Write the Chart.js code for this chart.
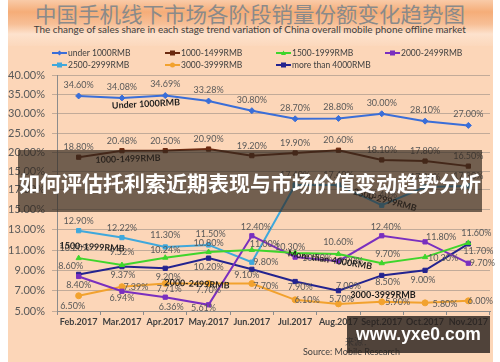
<!DOCTYPE html>
<html><head><meta charset="utf-8">
<script src="https://cdn.jsdelivr.net/npm/chart.js@4.4.1/dist/chart.umd.min.js"></script>
<style>
html,body{margin:0;padding:0;background:#fff;}
#wrap{position:relative;width:500px;height:362px;overflow:hidden;background:#fff;}
#peach{position:absolute;left:8px;top:0;width:485px;height:362px;background:#fcd6b8;}
#head{position:absolute;left:8px;top:0;width:485px;height:46px;
  background:linear-gradient(to bottom,#f9cba8 0px,#f5ad78 12px,#f7bf96 24px,#fde2cd 34px,#fcd8bc 46px);}
.line{position:absolute;left:0;width:500px;text-align:center;white-space:nowrap;}
.line span{display:inline-block;transform-origin:center;}
#title{top:0px;font:400 21px "Noto Sans CJK SC";color:#8a8a8a;line-height:26px;}
#sub{top:23px;font:400 9px Lato;color:#404040;line-height:13px;}
canvas{position:absolute;left:0;top:0;}
#src1{position:absolute;left:345px;top:335px;font:400 9px "Noto Sans CJK SC";color:#777;}
#src2{position:absolute;left:303px;top:346px;font:400 9px Lato;color:#404040;white-space:nowrap;}
#band{position:absolute;left:18px;top:150px;width:464px;height:62px;background:rgba(48,38,30,0.68);}
#bandtxt{position:absolute;left:0;top:19px;width:464px;text-align:center;color:#fff;font:700 21px "Noto Sans CJK SC";line-height:26px;white-space:nowrap;}
#www{position:absolute;left:347px;top:316px;width:143px;height:37px;background:rgba(42,34,30,0.82);color:#fff;font:700 17.5px "Liberation Sans",Arial,sans-serif;line-height:37px;text-align:center;}
</style></head>
<body>
<div id="wrap">
  <div id="peach"></div>
  <div id="head"></div>
  <div class="line" id="title"><span id="titleS">中国手机线下市场各阶段销量份额变化趋势图</span></div>
  <div class="line" id="sub"><span id="subS">The change of sales share in each stage trend variation of China overall mobile phone offline market</span></div>
  <canvas id="c" width="500" height="362"></canvas>
  <div id="src1">来源：</div>
  <div id="src2">Source: Mobile Research</div>
  <div id="band"><div id="bandtxt">如何评估托利索近期表现与市场价值变动趋势分析</div></div>
  <div id="www">www.yxe0.com</div>
</div>
<script>
// ---------- data ----------
const categories = ['Feb.2017','Mar.2017','Apr.2017','May.2017','Jun.2017','Jul.2017','Aug.2017','Sept.2017','Oct.2017','Nov.2017'];
const seriesNames = ['under 1000RMB','1000-1499RMB','1500-1999RMB','2000-2499RMB','2500-2999RMB','3000-3999RMB','more than 4000RMB'];
const under1000  = [34.60,34.08,34.69,33.28,30.80,28.70,28.80,30.00,28.10,27.00];
const r1000_1499 = [18.80,20.48,20.50,20.90,19.20,19.90,20.60,18.10,17.80,16.50];
const r1500_1999 = [10.20,9.52,10.24,10.80,11.00,10.70,10.60,9.70,10.30,11.70];
const r2000_2499 = [8.40,6.94,6.36,5.61,12.40,10.30,9.90,12.40,11.80,9.70];
const r2500_2999 = [12.90,12.22,11.30,11.50,9.80,17.40,17.40,15.40,17.20,17.30];
const r3000_3999 = [6.50,7.39,7.71,7.70,7.70,6.10,5.70,5.90,5.80,6.00];
const over4000   = [8.60,9.37,9.20,10.20,9.10,7.90,7.00,8.50,9.00,11.60];
const upperTicks = [15,20,25,30,35,40];
const lowerTicks = [5,7,9,11,13,15,17];

// ---------- styling / placement ----------
const colors = ['#3a6ed8','#6b2a10','#3fd52c','#7a2fbf','#3fa8dc','#f2a22e','#23238f'];
const pstyles = ['rectRot','rect','triangle','rect','rect','circle','rect'];
const axisFor = ['yTop','yTop','yBot','yBot','yBot','yBot','yBot'];
const labelOffsets = [
 [[0,-11],[0,-11],[0,-11],[0,-11],[0,-11],[0,-11],[0,-11],[0,-11],[0,-11],[0,-11]],
 [[0,-10],[0,-10],[0,-10],[0,-10],[0,-10],[0,-10],[0,-10],[0,-10],[0,-10],[0,-10]],
 [[-4,-10],[0,-13],[0,-8],[0,-9],[13,-6],[22,5],[0,-12],[6,-9],[18,1],[10,8]],
 [[0,9],[0,7],[6,10],[-5,3],[4,-9],[-5,-10],[12,0],[4,-9],[16,-5],[14,0]],
 [[0,-10],[0,-10],[0,-12],[2,-11],[14,0],[0,-10],[0,-10],[0,-10],[0,-10],[0,-10]],
 [[-6,10],[14,0],[4,6],[0,7],[14,3],[12,0],[3,-5],[16,0],[20,1],[12,0]],
 [[-8,-8],[1,9],[3,9],[0,9],[-5,6],[5,6],[10,-5],[6,7],[-2,10],[8,-11]]
];
const legendPos = [[52,53],[165,53],[276,53],[385,53],[52,65],[165,65],[276,65]];
const annotations = [
 ['Under 1000RMB',146,104,-3],
 ['1000-1499RMB',128,159,-2],
 ['1500-1999RMB',92,247,3],
 ['2000-2499RMB',197,284,3],
 ['2500-2999RMB',385,200,15],
 ['More than 4000RMB',330,260,9],
 ['3000-3999RMB',383,295,0]
];

const allSeries = [under1000,r1000_1499,r1500_1999,r2000_2499,r2500_2999,r3000_3999,over4000];

const datasets = allSeries.map((d,i)=>({
  label: seriesNames[i], data: d, yAxisID: axisFor[i],
  borderColor: colors[i], backgroundColor: colors[i],
  borderWidth: 2, pointStyle: pstyles[i], pointRadius: 3, pointBorderWidth: 1,
  tension: 0, clip: false
}));

function drawMarker(ctx, style, x, y, r){
  ctx.beginPath();
  if(style==='rect'){ctx.rect(x-r,y-r,2*r,2*r);}
  else if(style==='rectRot'){ctx.moveTo(x,y-r);ctx.lineTo(x+r,y);ctx.lineTo(x,y+r);ctx.lineTo(x-r,y);ctx.closePath();}
  else if(style==='triangle'){ctx.moveTo(x,y-r);ctx.lineTo(x+r,y+r*0.8);ctx.lineTo(x-r,y+r*0.8);ctx.closePath();}
  else {ctx.arc(x,y,r,0,Math.PI*2);}
  ctx.fill();
}

const extras = {
  id:'extras',
  afterDatasetsDraw(chart){
    const ctx = chart.ctx;
    ctx.save();
    ctx.font = '9px Lato, sans-serif';
    ctx.fillStyle = '#595959';
    ctx.textAlign = 'center'; ctx.textBaseline = 'middle';
    chart.data.datasets.forEach((ds,i)=>{
      const meta = chart.getDatasetMeta(i);
      meta.data.forEach((pt,j)=>{
        const o = labelOffsets[i][j];
        ctx.fillText(ds.data[j].toFixed(2)+'%', pt.x+o[0], pt.y+o[1]);
      });
    });
    ctx.font = 'bold 9px Lato, sans-serif';
    ctx.fillStyle = '#1e1e1e';
    annotations.forEach(a=>{
      ctx.save(); ctx.translate(a[1],a[2]); ctx.rotate(a[3]*Math.PI/180);
      ctx.fillText(a[0],0,0); ctx.restore();
    });
    ctx.font = '8.5px Lato, sans-serif';
    ctx.textAlign = 'left';
    chart.data.datasets.forEach((ds,i)=>{
      const [x,y] = legendPos[i];
      ctx.strokeStyle = ds.borderColor; ctx.lineWidth = 2;
      ctx.beginPath(); ctx.moveTo(x,y); ctx.lineTo(x+15,y); ctx.stroke();
      ctx.fillStyle = ds.borderColor;
      drawMarker(ctx, ds.pointStyle, x+7.5, y, 2.5);
      ctx.fillStyle = '#404040';
      ctx.fillText(ds.label, x+16, y+0.5);
    });
    ctx.restore();
  }
};

const gridColor = 'rgba(125,120,115,0.45)';
const tickFont = {family:'Lato', size:11};
function yScale(min,max,ticks,weight){
  return {
    type:'linear', position:'left', stack:'panels', stackWeight: weight,
    min:min, max:max,
    afterBuildTicks: s => { s.ticks = ticks.map(v=>({value:v})); },
    afterFit: s => { s.width = 57; },
    grid:{color:gridColor, tickLength:5, drawTicks:true},
    border:{color:'#8c8c8c'},
    ticks:{font:tickFont, color:'#595959', padding:7, autoSkip:false, callback:v=>Number(v).toFixed(2)+'%'}
  };
}

new Chart(document.getElementById('c'), {
  type:'line',
  data:{labels:categories, datasets:datasets},
  options:{
    responsive:false, animation:false, devicePixelRatio:1,
    layout:{padding:{left:0,right:10,top:75,bottom:31}},
    plugins:{legend:{display:false}, tooltip:{enabled:false}},
    scales:{
      x:{type:'category', offset:true,
         grid:{offset:true, drawOnChartArea:false, drawTicks:true, tickLength:4, color:'#8c8c8c'},
         border:{color:'#8c8c8c'},
         ticks:{font:{family:'Lato',size:9,weight:'bold'}, color:'#404040', padding:2, maxRotation:0, autoSkip:false},
         afterFit: s => { s.height = 20; }},
      yBot: yScale(5,17,lowerTicks,122),
      yTop: yScale(10.6,40,upperTicks,114)
    }
  },
  plugins:[extras]
});

function fit(id,w){const el=document.getElementById(id);const r=el.getBoundingClientRect().width; if(r>0) el.style.transform='scaleX('+(w/r)+')';}
fit('titleS',430); fit('subS',432);
</script>
</body></html>
